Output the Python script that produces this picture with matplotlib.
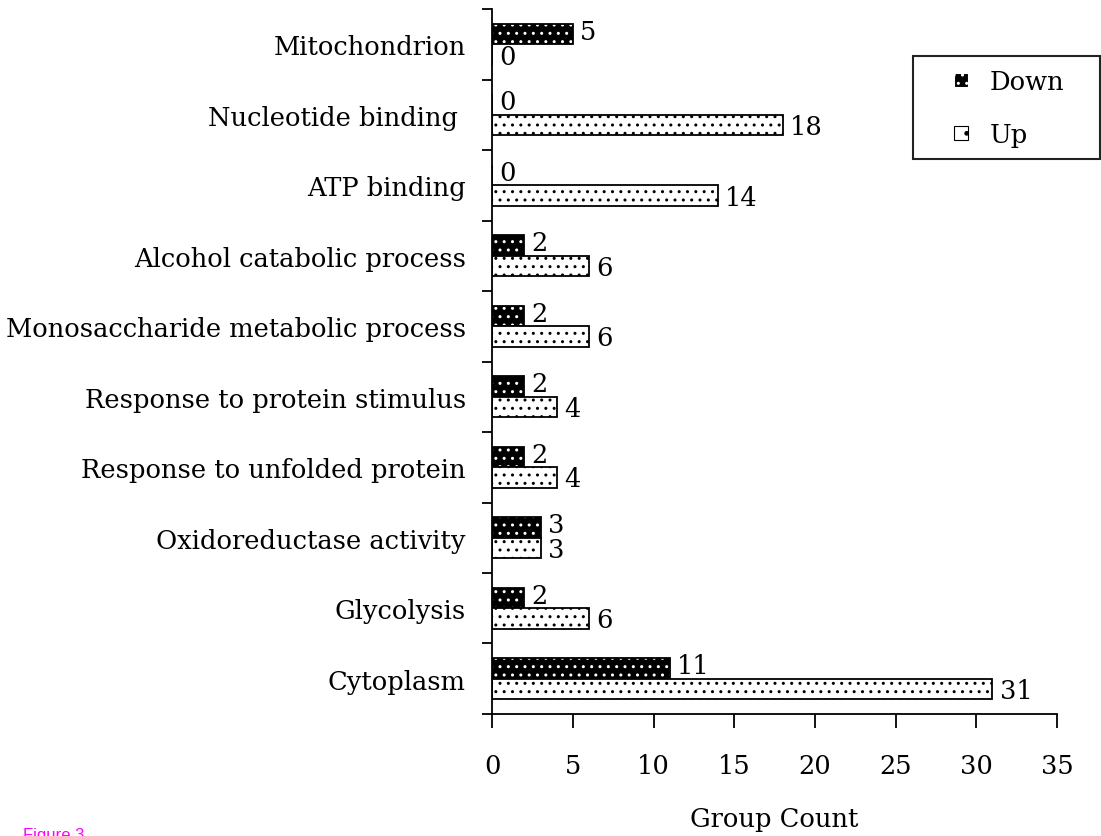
import numpy as np
import matplotlib
matplotlib.use("Agg")
import matplotlib.pyplot as plt
from matplotlib.patches import Patch, Rectangle
from matplotlib.legend_handler import HandlerPatch

categories = ["Mitochondrion", "Nucleotide binding ", "ATP binding", "Alcohol catabolic process",
              "Monosaccharide metabolic process", "Response to protein stimulus",
              "Response to unfolded protein", "Oxidoreductase activity", "Glycolysis", "Cytoplasm"]
down = [5, 0, 0, 2, 2, 2, 2, 3, 2, 11]
up = [0, 18, 14, 6, 6, 4, 4, 3, 6, 31]
xticks = [0, 5, 10, 15, 20, 25, 30, 35]

plt.rcParams['font.family'] = ['DejaVu Serif']
plt.rcParams['hatch.linewidth'] = 1.0

fig = plt.figure(figsize=(11.01, 8.37), dpi=100)
ax = fig.add_axes([0.447, 0.1458, 0.513, 0.842])

n = len(categories)
pos = np.arange(n)[::-1]  # top to bottom
h = 0.29
fs = 18.5

# Down: black with white dots
ax.barh(pos + h / 2, down, height=h, color='black', edgecolor='white', hatch='..', linewidth=0)
ax.barh(pos + h / 2, down, height=h, fill=False, edgecolor='black', linewidth=1.3)
# Up: white with black dots
ax.barh(pos - h / 2, up, height=h, color='white', edgecolor='black', hatch='..', linewidth=0)
ax.barh(pos - h / 2, up, height=h, fill=False, edgecolor='black', linewidth=1.3)

for p, d, u in zip(pos, down, up):
    ax.text(d + 0.45, p + h / 2 + 0.04, str(d), va='center', ha='left', fontsize=fs)
    ax.text(u + 0.45, p - h / 2 - 0.02, str(u), va='center', ha='left', fontsize=fs)

ax.set_xlim(0, 35)
ax.set_ylim(-0.5, n - 0.5)
ax.set_xticks(xticks)
ax.set_xticklabels([str(t) for t in xticks], fontsize=fs)
ax.set_yticks(pos)
ax.set_yticklabels(categories, fontsize=fs)
ax.set_yticks(np.arange(n + 1) - 0.5, minor=True)
ax.tick_params(axis='y', which='major', length=0, pad=19)
ax.tick_params(axis='y', which='minor', length=7, width=1.3, direction='out')
ax.tick_params(axis='x', length=10, width=1.3, direction='out', pad=18)

for s in ['top', 'right']:
    ax.spines[s].set_visible(False)
ax.spines['left'].set_linewidth(1.3)
ax.spines['bottom'].set_linewidth(1.3)

ax.set_xlabel('Group Count', fontsize=fs, labelpad=20)


# legend: small square at the right end of the handle box
def square(legend, orig_handle, xdescent, ydescent, width, height, fontsize):
    s = 0.55 * fontsize
    return Rectangle((-xdescent + width - s, -ydescent + (height - s) / 2), s, s)


handles = [Patch(facecolor='black', edgecolor='white', hatch='..'),
           Patch(facecolor='white', edgecolor='black', hatch='.')]
leg = fig.legend(handles, ['Down', 'Up'], loc='upper left',
                 bbox_to_anchor=(945 / 1101, 1 - 70 / 837),
                 fontsize=fs, frameon=False, handlelength=0.9, handleheight=0.7,
                 handletextpad=0.85, borderpad=0, labelspacing=1.1, borderaxespad=0,
                 handler_map={Patch: HandlerPatch(patch_func=square)})
for p in leg.get_patches():
    p.set_linewidth(0.8)
fig.add_artist(Rectangle((913 / 1101, 1 - 160 / 837), 187 / 1101, 103 / 837,
                         transform=fig.transFigure, fill=False, edgecolor='#222222', linewidth=1.5))

fig.text(0.021, -0.004, 'Figure 3', color='#ff00ff', fontsize=12, family='Liberation Sans')

fig.savefig('out.png', dpi=100)
